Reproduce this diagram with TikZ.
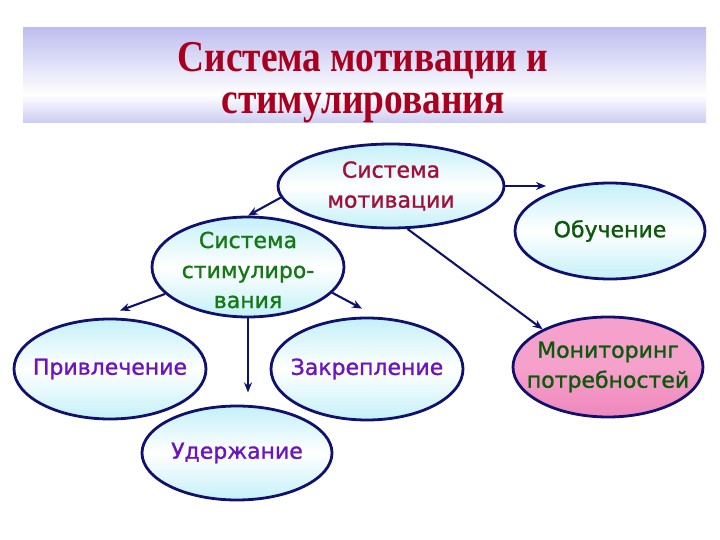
\documentclass[tikz,border=0pt]{standalone}
\usepackage{fontspec}
\setmainfont{DejaVu Sans}
\newfontfamily\elfont[FakeBold=1.2]{DejaVu Sans}
\newfontfamily\titlefont[FakeStretch=0.85]{Liberation Serif}
\usetikzlibrary{shapes.geometric,arrows.meta,calc}
\definecolor{navy}{RGB}{16,16,110}
\definecolor{titlered}{RGB}{168,0,30}
\definecolor{smred}{RGB}{160,16,56}
\definecolor{ssgreen}{RGB}{20,120,20}
\definecolor{dkgreen}{RGB}{10,90,10}
\definecolor{purp}{RGB}{110,20,190}
\definecolor{lav}{RGB}{190,190,240}
\definecolor{lcyan}{RGB}{196,240,248}
\definecolor{pinkA}{RGB}{246,160,204}
\definecolor{pinkB}{RGB}{238,136,188}
\begin{document}
\begin{tikzpicture}[x=1pt,y=-1pt,
  ell/.style={ellipse, draw=navy, line width=2.8pt, inner sep=0pt,
    top color=lcyan, bottom color=lcyan, middle color=white},
  txt/.style={align=center, font=\elfont\fontsize{22}{30}\selectfont},
  arr/.style={draw=navy, line width=2.1pt, -{Stealth[length=10pt,width=8pt]}}]
\useasboundingbox (0,0) rectangle (720,540);
% title box
\fill[top color=lav, bottom color=white] (23,28) rectangle (706,95);
\fill[top color=white, bottom color=lav!80] (23,95) rectangle (706,123);
\node[font=\titlefont\bfseries\fontsize{44}{42}\selectfont, text=titlered, align=center] (title) at (363,83) {Система мотивации и\\стимулирования};
% nodes
\node[ell, minimum width=226pt, minimum height=84pt] (sm) at (391,186) {};
\node[txt, text=smred] (smt) at (sm.center) {Система\\мотивации};
\node[ell, minimum width=192pt, minimum height=100pt] (ss) at (248,267) {};
\node[txt, text=ssgreen] (sst) at ($(ss.center)+(0,3)$) {Система\\стимулиро-\\вания};
\node[ell, minimum width=190pt, minimum height=96pt] (ob) at (610,231) {};
\node[txt, text=dkgreen] (obt) at (ob.center) {Обучение};
\node[ell, minimum width=190pt, minimum height=100pt, top color=pinkA, bottom color=pinkB, middle color=pinkA] (mn) at (608,367) {};
\node[txt, text=dkgreen] (mnt) at (mn.center) {Мониторинг\\потребностей};
\node[ell, minimum width=192pt, minimum height=100pt] (pr) at (110,369) {};
\node[txt, text=purp] (prt) at (pr.center) {Привлечение};
\node[ell, minimum width=192pt, minimum height=102pt] (zk) at (367,369) {};
\node[txt, text=purp] (zkt) at (zk.center) {Закрепление};
\node[ell, minimum width=190pt, minimum height=94pt] (ud) at (237,453) {};
\node[txt, text=purp] (udt) at (ud.center) {Удержание};
% connectors
\draw[arr] (sm.186) -- (ss.north);
\draw[arr] (sm.east) -- (sm.east -| ob.150);
\draw[arr] (sm.291) -- (mn.150);
\draw[arr] (ss.198) -- ($(pr.north)+(10,-7)$);
\draw[arr] (ss.343) -- ($(zk.north)+(-5,-8)$);
\draw[arr] (ss.south) -- ($(ss.south)+(0,74)$);
\end{tikzpicture}
\end{document}
